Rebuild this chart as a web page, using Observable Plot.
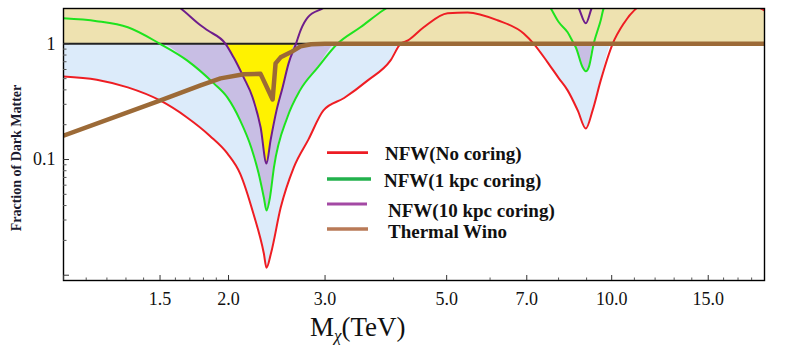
<!DOCTYPE html>
<html><head><meta charset="utf-8">
<script src="https://cdn.jsdelivr.net/npm/d3@7"></script>
<script src="https://cdn.jsdelivr.net/npm/@observablehq/plot@0.6"></script>
<style>body{margin:0;background:#fff}</style>
</head><body><div id="chart"></div>
<script>
// ---- data (M_chi in TeV, fraction of dark matter) ----
const redM = [1.0, 1.15, 1.31, 1.50, 1.68, 1.85, 1.99, 2.10, 2.22, 2.32, 2.346, 2.39, 2.49, 2.63, 2.80, 2.98, 3.25, 3.59, 3.95, 4.12, 4.25, 4.54, 5.02, 5.46, 6.19, 6.91, 7.21, 7.64, 8.01, 8.31, 8.67, 8.97, 9.23, 9.55, 10.04, 10.52, 11.15, 13.5, 16.5, 19.0];
const redF = [0.523, 0.49, 0.42, 0.324, 0.231, 0.16, 0.113, 0.0756, 0.0341, 0.0154, 0.0116, 0.0154, 0.0384, 0.0852, 0.15, 0.266, 0.34, 0.483, 0.72, 1.0, 1.07, 1.39, 1.84, 1.87, 1.60, 1.23, 1.0, 0.692, 0.503, 0.396, 0.266, 0.1855, 0.266, 0.483, 1.0, 1.5, 2.07, 3.0, 2.6, 1.95];

const greenM = [1.0, 1.15, 1.31, 1.50, 1.68, 1.88, 1.99, 2.10, 2.20, 2.27, 2.32, 2.346, 2.38, 2.42, 2.56, 2.70, 2.91, 3.16, 3.48, 3.83, 4.5, 6.0, 7.3, 7.74, 8.01, 8.31, 8.53, 8.60, 8.85, 8.97, 9.08, 9.27, 9.55, 9.67, 11, 19];
const greenF = [1.66, 1.57, 1.39, 1.0, 0.72, 0.455, 0.344, 0.218, 0.127, 0.0756, 0.0469, 0.0362, 0.0469, 0.0852, 0.231, 0.396, 0.626, 1.0, 1.39, 1.95, 3.0, 4.0, 3.0, 2.03, 1.535, 1.258, 1.0, 0.933, 0.626, 0.578, 0.626, 1.0, 1.6, 2.03, 4, 6];

const purpleM = [1.0, 1.4, 1.635, 1.778, 1.831, 1.975, 2.043, 2.131, 2.213, 2.289, 2.346, 2.386, 2.447, 2.51, 2.574, 2.655, 2.707, 2.79, 2.975, 4, 6, 8.0, 8.71, 8.97, 9.19, 10, 14, 19];
const purpleF = [6, 3.2, 2.03, 1.446, 1.309, 1.0, 0.764, 0.513, 0.344, 0.189, 0.0923, 0.146, 0.266, 0.42, 0.678, 1.0, 1.309, 1.696, 2.03, 5, 8, 4, 2.03, 1.505, 2.03, 4, 8, 8];

const winoM = [1.0, 1.503, 1.778, 1.934, 2.131, 2.288, 2.407, 2.437, 2.489, 2.596, 2.707, 2.83, 3.0, 19];
const winoF = [0.161, 0.324, 0.437, 0.503, 0.545, 0.55, 0.33, 0.678, 0.764, 0.844, 0.95, 0.99, 1.0, 1.0];

const xDomain = [1, 19];
const yDomain = [0.009, 2.02];
const xTickValues = [1.5, 2, 3, 5, 7, 10, 15];
const xTickLabels = ["1.5", "2.0", "3.0", "5.0", "7.0", "10.0", "15.0"];
const xMajorTicks = [1, 1.5, 2, 3, 5, 7, 10, 15];
const xMinorTicks = [1.1, 1.2, 1.3, 1.4, 1.6, 1.7, 1.8, 1.9, 4, 6, 8, 9, 11, 12, 13, 14, 16, 17, 18];
const yTickValues = [1, 0.1];
const yTickLabels = ["1", "0.1"];
const yMajorTicks = [1, 0.1, 0.01];
const yMinorTicks = [0.02, 0.03, 0.04, 0.05, 0.06, 0.07, 0.08, 0.09, 0.2, 0.3, 0.4, 0.5, 0.6, 0.7, 0.8, 0.9];

const legendLabels = ["NFW(No coring)", "NFW(1 kpc coring)", "NFW(10 kpc coring)", "Thermal Wino"];
const legendColors = ["#ED1C24", "#22B14C", "#A349A4", "#B97A57"];

const rows = (M, F) => M.map((m, i) => ({m, f: F[i]}));
const red = rows(redM, redF), green = rows(greenM, greenF), purple = rows(purpleM, purpleF), wino = rows(winoM, winoF);
const band = [{x1: xDomain[0], x2: xDomain[1], y1: 1, y2: yDomain[1]}];

const crv = "monotone-x";
const clampArea = (data, fill) => Plot.areaY(data, {x: "m", y1: () => 1, y2: d => Math.min(d.f, 1), fill, curve: crv, clip: true});
const curveLine = (data, stroke, strokeWidth) => Plot.line(data, {x: "m", y: "f", stroke, strokeWidth, curve: crv, clip: true});
const xFmt = new Map(xTickValues.map((v, i) => [v, xTickLabels[i]]));
const yFmt = new Map(yTickValues.map((v, i) => [v, yTickLabels[i]]));

const plot = Plot.plot({
  width: 789, height: 350,
  marginLeft: 63, marginRight: 25, marginTop: 8, marginBottom: 70,
  style: {fontFamily: "'Liberation Serif', serif", background: "#fff"},
  x: {type: "log", domain: xDomain},
  y: {type: "log", domain: yDomain},
  marks: [
    Plot.rect(band, {x1: "x1", x2: "x2", y1: "y1", y2: "y2", fill: "#EEE2B0"}),
    clampArea(red, "#DCEBFA"),
    clampArea(green, "#C8BEE4"),
    clampArea(purple, "#FFF200"),
    Plot.ruleY([1], {stroke: "#222", strokeWidth: 2}),
    curveLine(red, "#EE1D23", 2),
    curveLine(green, "#1EE31E", 2),
    curveLine(purple, "#6E1D8C", 2),
    Plot.line(wino, {x: "m", y: "f", stroke: "#9C6A37", strokeWidth: 4.5, clip: true}),
    Plot.frame({stroke: "#000", strokeWidth: 1.4}),
    Plot.axisX(xTickValues, {tickSize: 0, tickPadding: 12, tickFormat: d => xFmt.get(d), fontSize: 18, label: null, fill: "#111"}),
    Plot.axisX(xMajorTicks, {tickSize: -5, tickFormat: () => "", label: null, stroke: "#333"}),
    Plot.axisX(xMinorTicks, {tickSize: -2.5, tickFormat: () => "", label: null, stroke: "#555"}),
    Plot.axisY(yTickValues, {tickSize: 0, tickPadding: 8, tickFormat: d => yFmt.get(d), fontSize: 18, label: null, fill: "#111"}),
    Plot.axisY(yMajorTicks, {tickSize: -6, tickFormat: () => "", label: null, stroke: "#333"}),
    Plot.axisY(yMinorTicks, {tickSize: -3.5, tickFormat: () => "", label: null, stroke: "#555"})
  ]
});

const svg = d3.select(plot);
// y axis title
svg.append("text")
  .attr("transform", "translate(16,158) rotate(-90)")
  .attr("text-anchor", "middle").attr("dominant-baseline", "central")
  .attr("font-family", "'Liberation Serif', serif").attr("font-weight", "bold")
  .attr("font-size", 14).attr("fill", "#1a1a2e")
  .text("Fraction of Dark Matter");
// x axis title
const xt = svg.append("text")
  .attr("x", 310).attr("y", 336).attr("text-anchor", "start")
  .attr("font-family", "'Liberation Serif', serif").attr("font-size", 27).attr("fill", "#111");
xt.append("tspan").text("M");
xt.append("tspan").attr("font-size", 17).attr("font-style", "italic").attr("dy", 5).text("χ");
xt.append("tspan").attr("dy", -5).text("(TeV)");
// legend
const legLineY = [152.7, 179, 204, 229];
const legLineX2 = [368, 371, 367, 368];
const legLineW = [2.8, 3.6, 3, 3.6];
const legTextX = [385, 384, 388, 388];
const legTextY = [160, 187, 217, 238];
legendLabels.forEach((lab, i) => {
  svg.append("line").attr("x1", 327).attr("x2", legLineX2[i]).attr("y1", legLineY[i]).attr("y2", legLineY[i])
    .attr("stroke", legendColors[i]).attr("stroke-width", legLineW[i]);
  svg.append("text").attr("x", legTextX[i]).attr("y", legTextY[i]).attr("text-anchor", "start")
    .attr("font-family", "'Liberation Serif', serif").attr("font-weight", "bold").attr("font-size", 19)
    .attr("fill", "#111").text(lab);
});

document.getElementById("chart").appendChild(plot);
</script>
</body></html>
